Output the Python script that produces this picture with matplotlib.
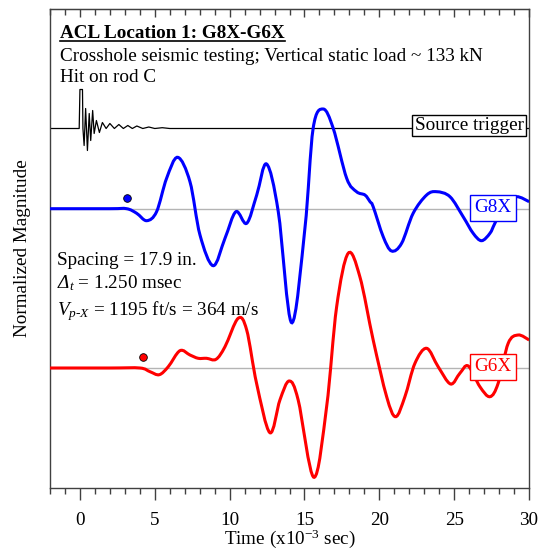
import numpy as np
import matplotlib
matplotlib.use("Agg")
import matplotlib.pyplot as plt
from matplotlib.path import Path
from matplotlib.patches import PathPatch
from matplotlib.lines import Line2D

plt.rcParams['font.family'] = ['Liberation Serif', 'DejaVu Serif']
plt.rcParams['mathtext.fontset'] = 'custom'
plt.rcParams['mathtext.rm'] = 'Liberation Serif'
plt.rcParams['mathtext.it'] = 'Liberation Serif:italic'
plt.rcParams['mathtext.bf'] = 'Liberation Serif:bold'
# italic greek capitals: routed through the sf slot
plt.rcParams['mathtext.sf'] = 'Liberation Serif:italic'

# trace offsets (normalized units)
offsets = {'trigger': 3.595, 'G8X': 2.793, 'G6X': 1.20}

# source trigger (ms, amplitude)
trig_t = [-2, -0.05, 0.0, 0.17, 0.2, 0.28, 0.38, 0.5, 0.62, 0.72, 0.85, 0.95, 1.1, 1.3,
          1.5, 1.75, 2.0, 2.3, 2.6, 2.9, 3.2, 3.5, 3.8, 4.2, 4.6, 5.0, 5.5, 6.0, 30]
trig_a = [0, 0, 0.39, 0.39, 0, -0.17, 0.20, -0.22, 0.15, -0.12, 0.18, -0.05, 0.08, -0.04,
          0.06, 0.0, 0.05, 0.0, 0.04, 0.0, 0.03, 0.0, 0.025, 0.0, 0.015, 0.0, 0.008, 0.0, 0]

# G8X receiver
g8_t = [-2, 2.0, 3.12, 3.79, 4.46, 5.12, 5.79, 6.53, 7.35, 8.02, 8.90, 9.69, 10.42, 11.14,
        11.81, 12.47, 13.25, 14.14, 15.03, 15.58, 16.25, 16.92, 17.82, 18.48, 19.04, 19.38,
        19.59, 20.26, 20.82, 21.49, 22.26, 23.16, 23.83, 24.72, 25.60, 26.27, 26.83, 27.39,
        27.72, 28.39, 29.17, 30.01]
g8_a = [0, 0, 0, -0.046, -0.12, -0.03, 0.304, 0.514, 0.27, -0.263, -0.57, -0.296, -0.03, -0.146,
        0.137, 0.447, -0.03, -1.14, -0.196, 0.804, 0.997, 0.804, 0.304, 0.17, 0.137, 0.07,
        0.02, -0.28, -0.423, -0.346, -0.046, 0.137, 0.17, 0.12, -0.08, -0.246, -0.32, -0.246,
        -0.146, 0.05, 0.12, 0.07]

# G6X receiver
g6_t = [-2, 2.0, 4.01, 4.68, 5.30, 5.90, 6.68, 7.35, 7.90, 8.46, 9.09, 9.69, 10.57, 11.14,
        11.80, 12.69, 13.36, 13.98, 14.58, 15.63, 16.48, 17.15, 17.92, 18.70, 19.59, 20.49,
        21.09, 21.71, 22.38, 23.16, 23.93, 24.76, 25.38, 25.94, 26.72, 27.39, 27.94, 28.61,
        29.28, 30.01]
g6_a = [0, 0, 0, -0.037, -0.067, 0.013, 0.173, 0.13, 0.097, 0.097, 0.087, 0.213, 0.497, 0.38,
        -0.153, -0.647, -0.32, -0.13, -0.32, -1.093, -0.387, 0.613, 1.147, 0.913, 0.28, -0.287,
        -0.487, -0.287, 0.047, 0.197, 0.013, -0.16, -0.053, 0.02, -0.187, -0.287, -0.153, 0.247,
        0.33, 0.28]

# first arrival picks
pick_t = {'G8X': 3.16, 'G6X': 4.19}
pick_a = {'G8X': 0.11, 'G6X': 0.113}


def smooth_path(x, y):
    # catmull-rom through the points, drawn as cubic bezier segments
    p = np.column_stack([x, y])
    pe = np.vstack([p[0], p, p[-1]])
    verts = [p[0]]
    codes = [Path.MOVETO]
    for i in range(len(p) - 1):
        p0, p1, p2, p3 = pe[i], pe[i + 1], pe[i + 2], pe[i + 3]
        verts += [p1 + (p2 - p0) / 6, p2 - (p3 - p1) / 6, p2]
        codes += [Path.CURVE4] * 3
    return Path(verts, codes)


fig = plt.figure(figsize=(5.39, 5.54), dpi=100)
ax = fig.add_axes([50 / 539, 66 / 554, 479 / 539, 479 / 554])
ax.set_xlim(-2, 30)
ax.set_ylim(0, 4.79)

for k in ['G8X', 'G6X']:
    ax.axhline(offsets[k], color='#b4b4b4', lw=1, zorder=1)

ax.plot(trig_t, np.array(trig_a) + offsets['trigger'], color='black', lw=0.9, zorder=2)
ax.add_patch(PathPatch(smooth_path(g8_t, np.array(g8_a) + offsets['G8X']),
                       fill=False, edgecolor='#0000ff', lw=2.2, zorder=3))
ax.add_patch(PathPatch(smooth_path(g6_t, np.array(g6_a) + offsets['G6X']),
                       fill=False, edgecolor='#ff0000', lw=2.2, zorder=3))

ax.plot(pick_t['G8X'], offsets['G8X'] + pick_a['G8X'], 'o', ms=5.5, mfc='#0000ff',
        mec='black', mew=0.6, zorder=4)
ax.plot(pick_t['G6X'], offsets['G6X'] + pick_a['G6X'], 'o', ms=5.5, mfc='#ff0000',
        mec='black', mew=0.6, zorder=4)

# trace labels
fs = 13.8
ax.text(26.0, 0.757, 'Source trigger', transform=ax.get_xaxis_transform(), fontsize=fs,
        ha='center', va='center', zorder=5,
        bbox=dict(boxstyle='square,pad=0.12', fc='white', ec='black', lw=1))
ax.text(27.58, 0.585, 'G8X', transform=ax.get_xaxis_transform(), fontsize=fs, color='#0000ff',
        ha='center', va='center', zorder=5,
        bbox=dict(boxstyle='square,pad=0.22', fc='white', ec='#0000ff', lw=1))
ax.text(27.59, 0.253, 'G6X', transform=ax.get_xaxis_transform(), fontsize=fs, color='#ff0000',
        ha='center', va='center', zorder=5,
        bbox=dict(boxstyle='square,pad=0.22', fc='white', ec='#ff0000', lw=1))

# annotations
title = ax.text(0.021, 0.940, 'ACL Location 1: G8X-G6X', transform=ax.transAxes,
                fontsize=fs, fontweight='bold', va='baseline')
ax.text(0.021, 0.891, 'Crosshole seismic testing; Vertical static load ~ 133 kN',
        transform=ax.transAxes, fontsize=fs, va='baseline')
ax.text(0.021, 0.848, 'Hit on rod C', transform=ax.transAxes, fontsize=fs, va='baseline')
ax.text(0.014, 0.466, 'Spacing = 17.9 in.', transform=ax.transAxes, fontsize=fs, va='baseline')
ax.text(0.014, 0.417, r'$\mathsf{Δ}_{\mathit{t}}$ = 1.250 msec', transform=ax.transAxes,
        fontsize=fs, va='baseline')
ax.text(0.014, 0.361, r'$\mathit{V}_{\mathit{p}\text{-}\mathit{X}}$ = 1195 ft/s = 364 m/s',
        transform=ax.transAxes, fontsize=fs, va='baseline')

# axes styling
for s in ax.spines.values():
    s.set_color('#404040')
    s.set_linewidth(1.0)
ax.set_yticks([])
ax.set_xticks(np.arange(0, 31, 5))
ax.set_xticks(np.arange(-2, 31, 1), minor=True)
ax.tick_params(axis='x', which='major', direction='out', length=8.5, width=1,
               color='#404040', labelsize=fs, pad=8.5)
ax.tick_params(axis='x', which='minor', direction='out', length=4, width=1, color='#404040')
top = ax.secondary_xaxis('top')
top.set_xticks(np.arange(0, 31, 5))
top.set_xticks(np.arange(-2, 31, 1), minor=True)
top.tick_params(axis='x', which='major', direction='in', length=6, width=1,
                color='#404040', labeltop=False)
top.tick_params(axis='x', which='minor', direction='in', length=4, width=1, color='#404040')
top.spines['top'].set_color('#404040')

ax.set_xlabel(r'Time (x10$^{\mathregular{-3}}$ sec)', fontsize=fs, labelpad=-1)
ax.set_ylabel('Normalized Magnitude', fontsize=fs, labelpad=14)

# underline the title
fig.canvas.draw()
bb = title.get_window_extent().transformed(fig.transFigure.inverted())
uy = (554 - 40.5) / 554
fig.add_artist(Line2D([bb.x0, bb.x1], [uy, uy], color='black', lw=1.2))

fig.savefig('out.png', dpi=100)
